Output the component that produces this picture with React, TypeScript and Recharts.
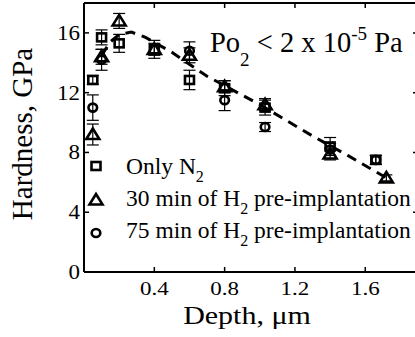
import React from 'react';
import { ScatterChart, Scatter, XAxis, YAxis, ErrorBar } from 'recharts';

const FONT = '"Liberation Serif", "Times New Roman", serif';

// Only N2 (squares)
const squareDepth = [0.05, 0.1, 0.2, 0.4, 0.6, 0.8, 1.03, 1.4, 1.66];
const squareHardness = [12.85, 15.7, 15.3, 14.9, 12.85, 12.3, 11.0, 8.4, 7.5];
const squareError = [0.3, 0.5, 0.6, 0.6, 0.65, 0.5, 0.5, 0.6, 0.3];

// 30 min of H2 pre-implantation (triangles)
const triangleDepth = [0.05, 0.1, 0.2, 0.4, 0.6, 0.8, 1.03, 1.4, 1.72];
const triangleHardness = [9.2, 14.4, 16.8, 14.9, 14.5, 12.4, 11.2, 7.9, 6.3];
const triangleError = [0.7, 0.5, 0.5, 0.4, 0.5, 0.4, 0.4, 0.4, 0.2];

// 75 min of H2 pre-implantation (circles)
const circleDepth = [0.05, 0.1, 0.6, 0.8, 1.03, 1.4, 1.66];
const circleHardness = [11.0, 14.2, 14.8, 11.5, 9.7, 8.2, 7.5];
const circleError = [0.85, 0.7, 0.6, 0.7, 0.3, 0.4, 0.3];

// dashed guide line
const fitDepth = [0.1, 0.15, 0.2, 0.27, 0.35, 0.5, 0.7, 1.0, 1.3, 1.5, 1.72];
const fitHardness = [14.5, 15.4, 15.9, 16.05, 15.7, 14.7, 13.1, 11.2, 9.1, 7.8, 6.3];

const xTicks = [0.4, 0.8, 1.2, 1.6];
const yTicks = [0, 4, 8, 12, 16];

const squares = squareDepth.map((x, i) => ({ x, y: squareHardness[i], e: squareError[i] }));
const triangles = triangleDepth.map((x, i) => ({ x, y: triangleHardness[i], e: triangleError[i] }));
const circles = circleDepth.map((x, i) => ({ x, y: circleHardness[i], e: circleError[i] }));
const fit = fitDepth.map((x, i) => ({ x, y: fitHardness[i] }));

const SquareShape = (p: any) => (
  <rect x={p.cx - 4.5} y={p.cy - 4} width={9} height={8} fill="none" stroke="#000" strokeWidth={2.6} />
);
const TriangleShape = (p: any) => (
  <polygon
    points={`${p.cx},${p.cy - 6} ${p.cx + 6.5},${p.cy + 4.5} ${p.cx - 6.5},${p.cy + 4.5}`}
    fill="none"
    stroke="#000"
    strokeWidth={2.6}
  />
);
const CircleShape = (p: any) => (
  <ellipse cx={p.cx} cy={p.cy} rx={4.3} ry={4} fill="none" stroke="#000" strokeWidth={2.6} />
);
const NoShape = () => <g />;

const BottomTick = (p: any) => (
  <g>
    <line x1={p.x} x2={p.x} y1={p.y} y2={p.y - 5} stroke="#000" strokeWidth={1.5} />
    <text
      transform={`translate(${p.x},${p.y + 23}) scale(1,0.85)`}
      textAnchor="middle"
      fontFamily={FONT}
      fontSize={23}
      fill="#000"
    >
      {p.payload.value}
    </text>
  </g>
);
const LeftTick = (p: any) => (
  <g>
    <line x1={p.x} x2={p.x + 5} y1={p.y} y2={p.y} stroke="#000" strokeWidth={1.5} />
    <text
      transform={`translate(${p.x - 4},${p.y + 7}) scale(1,0.9)`}
      textAnchor="end"
      fontFamily={FONT}
      fontSize={23}
      fill="#000"
    >
      {p.payload.value}
    </text>
  </g>
);
const TopTick = (p: any) => (
  <line x1={p.x} x2={p.x} y1={p.y} y2={p.y + 5} stroke="#000" strokeWidth={1.5} />
);
const RightTick = (p: any) => (
  <line x1={p.x} x2={p.x - 5} y1={p.y} y2={p.y} stroke="#000" strokeWidth={1.5} />
);

const axisLine = { stroke: '#000', strokeWidth: 2 };

export default function App() {
  return (
    <div
      style={{
        position: 'absolute',
        left: 0,
        top: 0,
        width: 415,
        height: 337,
        overflow: 'hidden',
        background: '#fff',
      }}
    >
      <ScatterChart width={430} height={337} margin={{ top: 0, right: 0, bottom: 0, left: 0 }}>
        <XAxis
          xAxisId={0}
          type="number"
          dataKey="x"
          orientation="bottom"
          domain={[0, 1.9]}
          allowDataOverflow
          ticks={xTicks}
          interval={0}
          height={65}
          tickSize={0}
          tickMargin={0}
          tickLine={false}
          axisLine={axisLine}
          tick={<BottomTick />}
        />
        <XAxis
          xAxisId="t"
          type="number"
          dataKey="x"
          orientation="top"
          domain={[0, 1.9]}
          allowDataOverflow
          ticks={xTicks}
          interval={0}
          height={3}
          tickSize={0}
          tickMargin={0}
          tickLine={false}
          axisLine={axisLine}
          tick={<TopTick />}
        />
        <YAxis
          yAxisId={0}
          type="number"
          dataKey="y"
          orientation="left"
          domain={[0, 18]}
          allowDataOverflow
          ticks={yTicks}
          interval={0}
          width={84}
          tickSize={0}
          tickMargin={0}
          tickLine={false}
          axisLine={axisLine}
          tick={<LeftTick />}
        />
        <YAxis
          yAxisId="r"
          type="number"
          dataKey="y"
          orientation="right"
          domain={[0, 18]}
          allowDataOverflow
          ticks={yTicks}
          interval={0}
          width={12}
          tickSize={0}
          tickMargin={0}
          tickLine={false}
          axisLine={axisLine}
          tick={<RightTick />}
        />
        <Scatter xAxisId="t" yAxisId="r" data={fit} shape={NoShape} isAnimationActive={false} />
        <Scatter name="Only N2" data={squares} shape={SquareShape} isAnimationActive={false}>
          <ErrorBar dataKey="e" direction="y" width={6} stroke="#000" strokeWidth={1.2} />
        </Scatter>
        <Scatter name="30 min" data={triangles} shape={TriangleShape} isAnimationActive={false}>
          <ErrorBar dataKey="e" direction="y" width={6} stroke="#000" strokeWidth={1.2} />
        </Scatter>
        <Scatter name="75 min" data={circles} shape={CircleShape} isAnimationActive={false}>
          <ErrorBar dataKey="e" direction="y" width={6} stroke="#000" strokeWidth={1.2} />
        </Scatter>
        <Scatter
          data={fit}
          shape={NoShape}
          line={{ stroke: '#000', strokeWidth: 3, strokeDasharray: '10 7' }}
          lineType="joint"
          isAnimationActive={false}
        />
      </ScatterChart>
      <svg
        width={415}
        height={337}
        style={{ position: 'absolute', left: 0, top: 0, pointerEvents: 'none' }}
        fontFamily={FONT}
        fill="#000"
      >
        <text transform="translate(32,134) rotate(-90)" textAnchor="middle" fontSize={29}>
          Hardness, GPa
        </text>
        <text transform="translate(247,324) scale(1,0.85)" textAnchor="middle" fontSize={30}>
          Depth, μm
        </text>
        <text x={210} y={52} fontSize={28.5}>
          Po
          <tspan fontSize={19} dy={14}>2</tspan>
          <tspan fontSize={28.5} dy={-14}>{' < 2 x 10'}</tspan>
          <tspan fontSize={19} dy={-12}>-5</tspan>
          <tspan fontSize={28.5} dy={12}>{' Pa'}</tspan>
        </text>
        <rect x={91.5} y={162} width={9} height={8} fill="none" stroke="#000" strokeWidth={2.6} />
        <polygon points="96,194 102.5,204.5 89.5,204.5" fill="none" stroke="#000" strokeWidth={2.6} />
        <ellipse cx={96} cy={233} rx={4.3} ry={4} fill="none" stroke="#000" strokeWidth={2.6} />
        <text x={126} y={174} fontSize={23.5}>
          Only N<tspan fontSize={16} dy={8}>2</tspan>
        </text>
        <text x={126} y={206} fontSize={23.5}>
          30 min of H<tspan fontSize={16} dy={8}>2</tspan>
          <tspan dy={-8}>{' pre-implantation'}</tspan>
        </text>
        <text x={126} y={238} fontSize={23.5}>
          75 min of H<tspan fontSize={16} dy={8}>2</tspan>
          <tspan dy={-8}>{' pre-implantation'}</tspan>
        </text>
      </svg>
    </div>
  );
}
